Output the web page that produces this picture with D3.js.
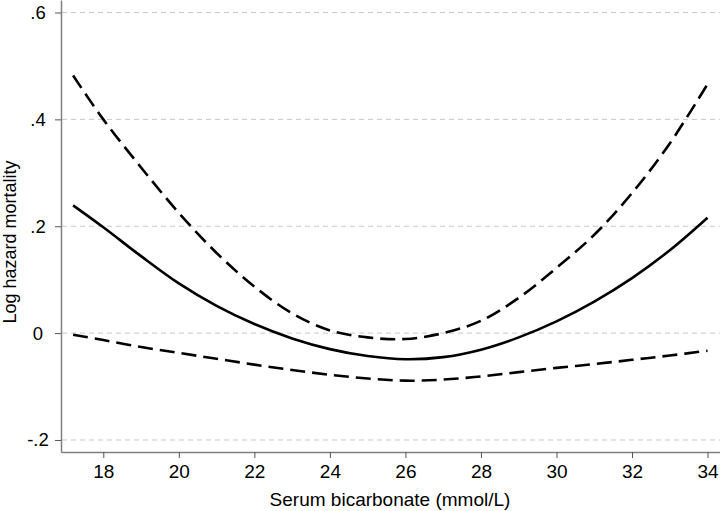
<!DOCTYPE html>
<html>
<head>
<meta charset="utf-8">
<script src="https://cdn.jsdelivr.net/npm/d3@7"></script>
<style>
  body { margin: 0; background: #fff; }
  text { font-family: "Liberation Sans", Arial, sans-serif; fill: #000; }
</style>
</head>
<body>
<script>
// bicarbonate values (mmol/L)
const bicarb = [17.2, 18, 19, 20, 21, 22, 23, 24, 25, 26, 27, 28, 29, 30, 31, 32, 33, 34];
// log hazard estimate and 95% CI
const estimate = [0.239, 0.198, 0.144, 0.093, 0.051, 0.017, -0.010, -0.030, -0.043, -0.049, -0.045, -0.031, -0.008, 0.022, 0.059, 0.103, 0.155, 0.216];
const upperCI = [0.482, 0.400, 0.310, 0.225, 0.150, 0.087, 0.037, 0.005, -0.008, -0.011, 0.000, 0.023, 0.066, 0.122, 0.184, 0.262, 0.355, 0.466];
const lowerCI = [-0.003, -0.013, -0.026, -0.037, -0.048, -0.059, -0.069, -0.078, -0.085, -0.089, -0.087, -0.081, -0.073, -0.065, -0.058, -0.050, -0.042, -0.033];
const xTicks = [18, 20, 22, 24, 26, 28, 30, 32, 34];
const yTicks = [-0.2, 0, 0.2, 0.4, 0.6];
const yTickLabels = ["-.2", "0", ".2", ".4", ".6"];

const W = 720, H = 511;
const plotLeft = 61, plotRight = 720, plotTop = 0, plotBottom = 452;

const svg = d3.select("body").append("svg").attr("width", W).attr("height", H);

const x = d3.scaleLinear().domain([16.88, 34.33]).range([plotLeft, plotRight]);
const y = d3.scaleLinear().domain([-0.2225, 0.6234]).range([plotBottom, plotTop]);

// gridlines
svg.append("g").selectAll("line")
  .data(yTicks)
  .enter().append("line")
  .attr("x1", plotLeft + 1).attr("x2", plotRight)
  .attr("y1", d => y(d)).attr("y2", d => y(d))
  .attr("stroke", "#c8c8c8")
  .attr("stroke-width", 1)
  .attr("stroke-dasharray", "5,4");

// axes
const yAxis = svg.append("g")
  .attr("transform", `translate(${plotLeft},0)`)
  .call(d3.axisLeft(y).tickValues(yTicks).tickFormat((d, i) => yTickLabels[i]).tickSize(6).tickSizeOuter(0));
yAxis.select(".domain").attr("stroke", "#808080").attr("stroke-width", 1.5);
yAxis.selectAll(".tick line").attr("stroke", "#555");
yAxis.selectAll(".tick text")
  .attr("x", -23).attr("text-anchor", "middle")
  .style("font-size", "18.5px").style("font-family", "Liberation Sans, Arial, sans-serif");

const xAxis = svg.append("g")
  .attr("transform", `translate(0,${plotBottom})`)
  .call(d3.axisBottom(x).tickValues(xTicks).tickSize(6).tickSizeOuter(0));
xAxis.select(".domain").attr("stroke", "#808080").attr("stroke-width", 1.5);
xAxis.selectAll(".tick line").attr("stroke", "#555");
xAxis.selectAll(".tick text")
  .attr("y", 13)
  .style("font-size", "19px").style("font-family", "Liberation Sans, Arial, sans-serif");

// axis titles
svg.append("text")
  .attr("x", 390).attr("y", 506)
  .attr("text-anchor", "middle")
  .style("font-size", "19px")
  .text("Serum bicarbonate (mmol/L)");

svg.append("text")
  .attr("transform", "translate(16,242) rotate(-90)")
  .attr("text-anchor", "middle")
  .style("font-size", "18px")
  .text("Log hazard mortality");

// curves
const line = d3.line()
  .x((d, i) => x(bicarb[i]))
  .y(d => y(d))
  .curve(d3.curveCatmullRom.alpha(0.5));

svg.append("path")
  .datum(upperCI)
  .attr("d", line)
  .attr("fill", "none").attr("stroke", "#000").attr("stroke-width", 2.6)
  .attr("stroke-dasharray", "15,7");

svg.append("path")
  .datum(lowerCI)
  .attr("d", line)
  .attr("fill", "none").attr("stroke", "#000").attr("stroke-width", 2.6)
  .attr("stroke-dasharray", "15,7");

svg.append("path")
  .datum(estimate)
  .attr("d", line)
  .attr("fill", "none").attr("stroke", "#000").attr("stroke-width", 2.6);
</script>
</body>
</html>
